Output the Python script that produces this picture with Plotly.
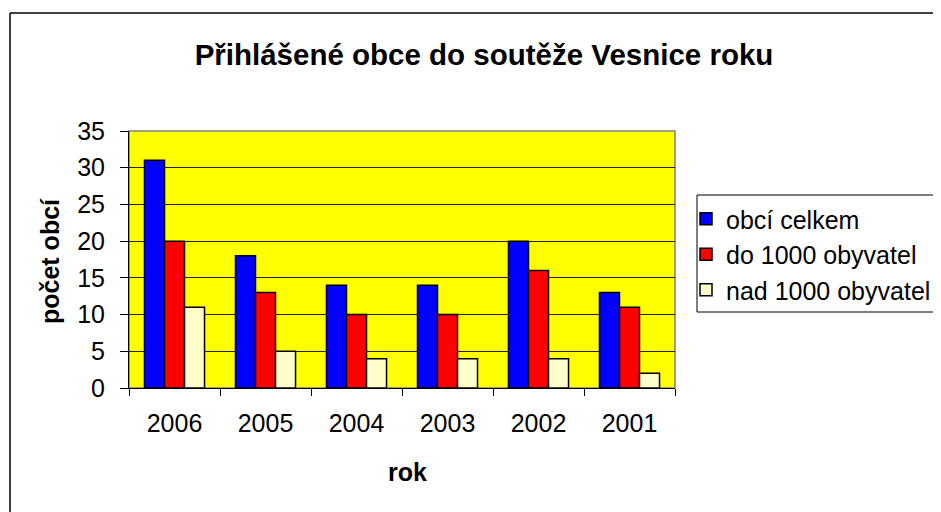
import plotly.graph_objects as go

years = ["2006", "2005", "2004", "2003", "2002", "2001"]
celkem = [31, 18, 14, 14, 20, 13]
do1000 = [20, 13, 10, 10, 16, 11]
nad1000 = [11, 5, 4, 4, 4, 2]
series_names = ["obcí celkem", "do 1000 obyvatel", "nad 1000 obyvatel"]
colors = ["#0000FF", "#FF0000", "#FFFFCC"]

FONT = "Liberation Sans, Arial, sans-serif"
OFF = 8  # page body margin
W, H = 941 - OFF, 512 - OFF
L, T = 129 - OFF, 131 - OFF
pw, ph = 546, 257
R, B = W - L - pw, H - T - ph


def px_x(x):
    return (x - OFF - L) / pw


def px_y(y):
    return (T + ph - (y - OFF)) / ph


fig = go.Figure()
for name, vals, c in zip(series_names, [celkem, do1000, nad1000], colors):
    fig.add_trace(go.Bar(x=years, y=vals, name=name,
                         marker=dict(color=c, line=dict(color="black", width=1.5))))

fig.update_layout(
    width=W, height=H,
    margin=dict(l=L, r=R, t=T, b=B, pad=0, autoexpand=False),
    paper_bgcolor="white", plot_bgcolor="#FFFF00",
    barmode="group", bargap=0.34, bargroupgap=0,
    font=dict(family=FONT, size=25, color="black"),
    title=dict(text="<b>Přihlášené obce do soutěže Vesnice roku</b>",
               x=(484 - OFF) / W, xanchor="center",
               y=1 - (55 - OFF) / H, yanchor="middle", font=dict(size=29.5, family=FONT)),
    showlegend=True,
    legend=dict(x=px_x(686), y=px_y(196), xanchor="left", yanchor="top",
                borderwidth=0, bgcolor="rgba(0,0,0,0)",
                font=dict(size=25, family=FONT), itemwidth=30),
    xaxis=dict(showgrid=False, showline=True, linecolor="black", linewidth=1,
               ticks="outside", ticklen=7, tickcolor="black", tickson="boundaries",
               ticklabelstandoff=13, tickfont=dict(size=25)),
    yaxis=dict(range=[0, 35], dtick=5, showgrid=True, gridcolor="#222222", gridwidth=1,
               showline=True, linecolor="black", linewidth=1, ticks="outside", ticklen=8,
               tickcolor="black", zeroline=False, tickfont=dict(size=25), ticklabelstandoff=10),
    annotations=[
        dict(text="<b>počet obcí</b>", xref="paper", yref="paper", x=px_x(50), y=px_y(261),
             textangle=-90, showarrow=False, font=dict(size=25),
             xanchor="center", yanchor="middle"),
        dict(text="<b>rok</b>", xref="paper", yref="paper", x=px_x(407), y=px_y(472),
             showarrow=False, font=dict(size=25), xanchor="center", yanchor="middle"),
    ],
    shapes=[
        dict(type="rect", xref="paper", yref="paper", x0=0, x1=1, y0=0, y1=1,
             line=dict(color="#808080", width=1.5), layer="below"),
        dict(type="rect", xref="paper", yref="paper", x0=px_x(697), x1=px_x(960),
             y0=px_y(312), y1=px_y(195), line=dict(color="black", width=1),
             fillcolor="white", layer="below"),
        dict(type="line", xref="paper", yref="paper", x0=px_x(10), x1=px_x(10),
             y0=px_y(13), y1=px_y(520), line=dict(color="black", width=1.5)),
        dict(type="line", xref="paper", yref="paper", x0=px_x(10), x1=px_x(950),
             y0=px_y(13), y1=px_y(13), line=dict(color="black", width=1.5)),
    ],
)

fig.write_html("out.html")
